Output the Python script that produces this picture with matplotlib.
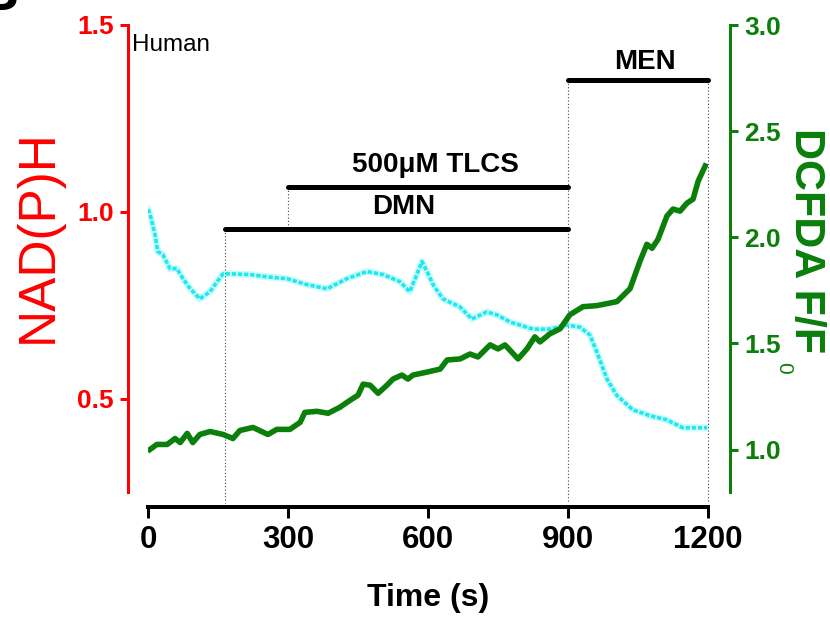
import matplotlib
matplotlib.use("Agg")
import matplotlib.pyplot as plt
from matplotlib.transforms import blended_transform_factory

# ---------------- data ----------------
nad_t = [0, 4, 15, 21, 32, 47, 62, 75, 90, 111, 133, 148, 161, 176, 219, 255, 298,
         341, 384, 426, 469, 504, 540, 561, 576, 587, 598, 611, 632, 669, 694, 726,
         748, 776, 825, 861, 898, 926, 947, 962, 984, 1005, 1039, 1076, 1112, 1146,
         1183, 1198]
nad_v = [1.007, 0.996, 0.939, 0.894, 0.885, 0.848, 0.848, 0.821, 0.795, 0.767, 0.786,
         0.813, 0.834, 0.834, 0.832, 0.826, 0.821, 0.805, 0.794, 0.821, 0.840, 0.832,
         0.813, 0.786, 0.832, 0.867, 0.840, 0.805, 0.767, 0.745, 0.713, 0.732, 0.724,
         0.705, 0.686, 0.686, 0.697, 0.691, 0.670, 0.624, 0.551, 0.508, 0.470, 0.454,
         0.443, 0.422, 0.422, 0.422]

dcf_t = [4, 19, 41, 58, 69, 84, 96, 111, 133, 161, 182, 197, 225, 257, 276, 304, 326,
         336, 362, 386, 411, 433, 450, 461, 476, 493, 512, 525, 544, 557, 568, 598,
         626, 641, 669, 690, 707, 733, 750, 765, 793, 812, 829, 840, 861, 883, 904,
         932, 962, 1005, 1033, 1054, 1069, 1080, 1093, 1112, 1125, 1140, 1155, 1168,
         1179, 1194]
dcf_v = [1.000, 1.024, 1.024, 1.052, 1.033, 1.076, 1.033, 1.071, 1.085, 1.071, 1.052,
         1.090, 1.104, 1.071, 1.095, 1.095, 1.128, 1.175, 1.180, 1.171, 1.199, 1.232,
         1.256, 1.308, 1.303, 1.265, 1.303, 1.332, 1.351, 1.332, 1.351, 1.365, 1.379,
         1.422, 1.427, 1.450, 1.436, 1.493, 1.474, 1.493, 1.427, 1.474, 1.531, 1.507,
         1.545, 1.569, 1.635, 1.673, 1.678, 1.697, 1.758, 1.886, 1.967, 1.948, 1.991,
         2.100, 2.133, 2.123, 2.161, 2.180, 2.265, 2.336]

event_labels = ['DMN', '500\u03bcM TLCS', 'MEN']
event_start = [165, 300, 900]
event_end = [900, 900, 1200]

x_ticks = [0, 300, 600, 900, 1200]
left_ticks = [0.5, 1.0, 1.5]
right_ticks = [1.0, 1.5, 2.0, 2.5, 3.0]

# ---------------- style ----------------
plt.rcParams['font.family'] = ['Liberation Sans', 'DejaVu Sans']
PX = 0.72  # points per pixel at dpi 100
W, H = 830, 617
RED = '#FF0000'
GREEN = '#0A7F0A'
CYAN = '#1DE9EF'

fig = plt.figure(figsize=(W/100, H/100), dpi=100)
ax = fig.add_axes([148/W, 1 - 492/H, 560/W, 467/H])
ax2 = ax.twinx()

# faint halo + speckled core to mimic the noisy trace
ax.plot(nad_t, nad_v, color=CYAN, lw=5.0, alpha=0.22, zorder=2)
ax.plot(nad_t, nad_v, color=CYAN, lw=2.6, linestyle=(0, (1.2, 0.5)), zorder=2)
ax2.plot(dcf_t, dcf_v, color=GREEN, lw=4.0, solid_joinstyle='round', zorder=3)

ax.set_xlim(0, 1200)
ax.set_ylim(0.25, 1.5)
ax2.set_ylim(0.8, 3.0)

for s in ['top', 'right']:
    ax.spines[s].set_visible(False)
for s in ['top', 'left', 'bottom']:
    ax2.spines[s].set_visible(False)

ax.spines['left'].set_position(('outward', 20*PX))
ax.spines['left'].set_color(RED)
ax.spines['left'].set_linewidth(3*PX)
ax.spines['bottom'].set_position(('outward', 15*PX))
ax.spines['bottom'].set_linewidth(4*PX)
ax.spines['bottom'].set_color('black')
ax2.spines['right'].set_position(('outward', 22*PX))
ax2.spines['right'].set_color(GREEN)
ax2.spines['right'].set_linewidth(3*PX)

ax.set_xticks(x_ticks)
ax.set_yticks(left_ticks)
ax2.set_yticks(right_ticks)
ax.set_yticklabels([f'{v:.1f}' for v in left_ticks])
ax2.set_yticklabels([f'{v:.1f}' for v in right_ticks])

ax.tick_params(axis='x', length=8, width=3*PX, labelsize=22.5, pad=5, colors='black')
ax.tick_params(axis='y', length=6, width=3*PX, labelsize=19, pad=4, colors=RED)
ax2.tick_params(axis='y', length=6, width=3*PX, labelsize=19, pad=4, colors=GREEN)
for lbl in ax.get_xticklabels() + ax.get_yticklabels() + ax2.get_yticklabels():
    lbl.set_fontweight('bold')

ax.set_xlabel('Time (s)', fontsize=23, fontweight='bold', labelpad=20)

# y-axis titles placed by their baseline
fig.text(52/W, 1 - 343/H, 'NAD(P)H', rotation=90, rotation_mode='anchor',
         ha='left', va='baseline', fontsize=37, color=RED)
fig.text(795/W, 1 - 128/H, 'DCFDA F/F', rotation=270, rotation_mode='anchor',
         ha='left', va='baseline', fontsize=31, fontweight='bold', color=GREEN)
fig.text(778/W, 1 - 362/H, '0', rotation=270, rotation_mode='anchor',
         ha='left', va='baseline', fontsize=15, color=GREEN)

# event bars
trans = blended_transform_factory(ax.transData, ax.transAxes)
bar_y = [0.563, 0.653, 0.882]
text_dy = [0.02, 0.02, 0.01]
for lab, x0, x1, yy, dy in zip(event_labels, event_start, event_end, bar_y, text_dy):
    ax.plot([x0, x1], [yy, yy], transform=trans, color='black', lw=5*PX,
            solid_capstyle='round', clip_on=False, zorder=4)
    ax.text((x0 + x1) / 2 + 15, yy + dy, lab, transform=trans, ha='center',
            va='bottom', fontsize=20, fontweight='bold', color='black')

guides = [(event_start[0], bar_y[0], -0.024), (event_start[1], bar_y[1], bar_y[0]),
          (event_start[2], bar_y[2], -0.024), (event_end[2], bar_y[2], -0.024)]
for gx, ytop, ybot in guides:
    ax.plot([gx, gx], [ytop, ybot], transform=trans, color='#444444', lw=0.8,
            linestyle=(0, (1, 2)), clip_on=False, zorder=1)

fig.text(132/W, 1 - 34/H, 'Human', ha='left', va='top', fontsize=17.5, color='black')
fig.text(18/W, 1 - 10/H, 'B', ha='right', va='baseline', fontsize=40,
         fontweight='bold', color='black')

fig.savefig('out.png', dpi=100)
